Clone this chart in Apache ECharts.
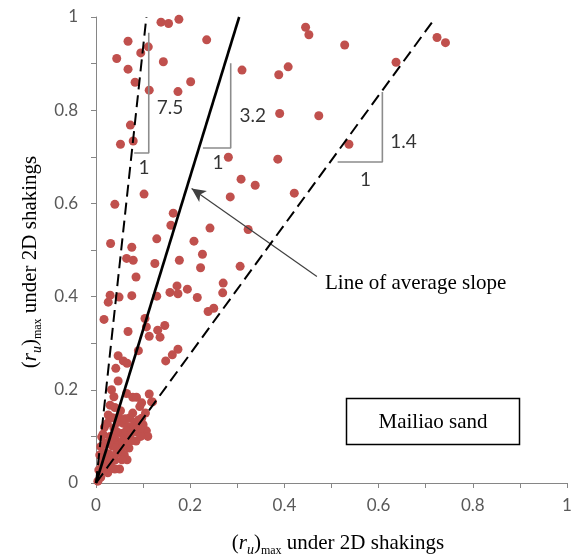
<!DOCTYPE html>
<html>
<head>
<meta charset="utf-8">
<script src="https://cdn.jsdelivr.net/npm/echarts@6/dist/echarts.min.js"></script>
<style>html,body{margin:0;padding:0;background:#fff}#c{width:582px;height:558px}</style>
</head>
<body>
<div id="c"></div>
<script>
// ---- data ----
const upperPoints = [
 [0.138,0.989],[0.154,0.986],[0.176,0.995],[0.068,0.948],[0.235,0.951],[0.044,0.911],[0.095,0.923],[0.111,0.936],
 [0.143,0.904],[0.068,0.888],[0.083,0.860],[0.113,0.843],[0.174,0.840],[0.201,0.861],[0.073,0.768],[0.052,0.727],
 [0.079,0.734],[0.102,0.620],[0.040,0.598],
 [0.445,0.978],[0.452,0.962],[0.528,0.940],[0.724,0.956],[0.742,0.945],[0.637,0.903],[0.310,0.886],[0.388,0.876],
 [0.408,0.893],[0.390,0.793],[0.473,0.788],[0.537,0.727],[0.281,0.699],[0.386,0.695],[0.308,0.652],[0.338,0.639],
 [0.285,0.614],[0.421,0.622],[0.242,0.547],[0.323,0.544],[0.226,0.491],[0.222,0.462],[0.306,0.465],[0.270,0.429],
 [0.269,0.408]
];
const middlePoints = [
 [0.164,0.579],[0.159,0.553],[0.031,0.514],[0.076,0.506],[0.129,0.524],[0.208,0.519],[0.065,0.482],[0.079,0.478],
 [0.125,0.471],[0.177,0.478],[0.085,0.442],[0.172,0.423],[0.194,0.416],[0.157,0.409],[0.174,0.406],[0.129,0.401],
 [0.215,0.398],[0.076,0.402],[0.030,0.403],[0.049,0.399],[0.026,0.388],[0.238,0.368],[0.250,0.375],
 [0.017,0.351],[0.104,0.353],[0.068,0.325],[0.107,0.335],[0.113,0.315],[0.131,0.328],[0.146,0.338],[0.136,0.313],
 [0.090,0.284],[0.047,0.273],[0.058,0.262],[0.066,0.257],[0.042,0.246],[0.174,0.287],[0.162,0.275],[0.148,0.262],
 [0.047,0.219],[0.033,0.200],[0.038,0.185],[0.065,0.192],[0.078,0.184],[0.086,0.184],[0.113,0.191],[0.097,0.172],
 [0.120,0.174],[0.030,0.167]
];
const lowerPoints = [
 [0.093,0.164],[0.118,0.174],[0.097,0.139],[0.090,0.135],[0.026,0.146],[0.107,0.112],[0.086,0.110],[0.068,0.121],
 [0.054,0.106],[0.065,0.092],[0.076,0.092],[0.012,0.099],[0.054,0.071],[0.040,0.049],
 [0.004,0.004],[0.010,0.012],[0.016,0.030],[0.022,0.045],[0.028,0.062],[0.034,0.080],[0.020,0.085],[0.030,0.100],
 [0.038,0.118],[0.046,0.130],[0.018,0.120],[0.040,0.095],[0.048,0.082],[0.058,0.128],[0.072,0.140],[0.062,0.100],
 [0.080,0.118],[0.094,0.115],[0.100,0.125],[0.070,0.075],[0.060,0.060],[0.045,0.065],[0.032,0.035],[0.025,0.022],
 [0.050,0.030],[0.066,0.050],[0.085,0.090],[0.008,0.060],[0.012,0.040],[0.052,0.155],[0.040,0.162],[0.078,0.150],
 [0.110,0.100],[0.105,0.150],
 [0.015,0.105],[0.024,0.128],[0.035,0.140],[0.044,0.110],[0.056,0.090],[0.064,0.112],[0.074,0.106],[0.082,0.130],
 [0.088,0.122],[0.036,0.058],[0.042,0.076],[0.028,0.088],[0.020,0.065],[0.016,0.052],[0.030,0.048],[0.058,0.080],
 [0.072,0.090],[0.095,0.100],[0.048,0.142],[0.062,0.138],[0.010,0.078],[0.006,0.028],[0.040,0.030],[0.055,0.050]
];
const steepLine   = [[0,0],[0.107,1.0]];
const averageLine = [[0,0],[0.304,1.0]];
const gentleLine  = [[0,0],[0.713,0.988]];
const triangle75 = [[0.081,0.708],[0.112,0.708],[0.112,0.966]];
const triangle32 = [[0.227,0.719],[0.286,0.719],[0.286,0.901]];
const triangle14 = [[0.513,0.689],[0.608,0.689],[0.608,0.839]];
const slopeLabels = ['7.5','1','3.2','1','1.4','1'];
const slopeLabelPos = [[0.157,0.806],[0.102,0.677],[0.333,0.788],[0.259,0.688],[0.653,0.732],[0.572,0.650]];
const arrowFrom = [0.469,0.443];
const arrowTo   = [0.203,0.632];
const xTicks = ['0','0.2','0.4','0.6','0.8','1'];

const chart = echarts.init(document.getElementById('c'));
const tickFmt = v => { const k = Math.round(v*10); return k % 2 === 0 ? xTicks[k/2] : ''; };
const axisCommon = {
  type:'value', min:0, max:1, interval:0.1,
  axisLine:{show:true, lineStyle:{color:'#868686', width:1}},
  axisTick:{show:true, length:5, lineStyle:{color:'#868686'}},
  splitLine:{show:false},
  axisLabel:{formatter:tickFmt, color:'#595959', fontFamily:'Lato', fontSize:17}
};
const serif = 'Liberation Serif';
const titleRich = {
  p:{fontFamily:serif, fontSize:21, color:'#000', lineHeight:28, verticalAlign:'middle'},
  i:{fontFamily:serif, fontStyle:'italic', fontSize:21, color:'#000', lineHeight:28, verticalAlign:'middle'},
  is:{fontFamily:serif, fontStyle:'italic', fontSize:14, color:'#000', lineHeight:14, verticalAlign:'bottom'},
  s:{fontFamily:serif, fontSize:12, color:'#000', lineHeight:14, verticalAlign:'bottom'}
};
const titleText = '{p|(}{i|r}{is|u}{p|)}{s|max}{p| under 2D shakings}';
const dot = {color:'#C0504D', opacity:1};
const lineSeries = (d, type, w) => ({type:'line', data:d, symbol:'none', z:5,
  lineStyle:{color:'#000', width:w, type:type}, silent:true});
const triSeries = d => ({type:'line', data:d, symbol:'none', z:4,
  lineStyle:{color:'#8c8c8c', width:1.6}, silent:true});

chart.setOption({
  animation:false,
  backgroundColor:'#fff',
  grid:{left:96, right:15, top:17, bottom:75},
  xAxis:Object.assign({}, axisCommon, {axisLabel:Object.assign({}, axisCommon.axisLabel, {margin:14})}),
  yAxis:Object.assign({}, axisCommon, {axisLabel:Object.assign({}, axisCommon.axisLabel, {margin:18})}),
  series:[
    {type:'scatter', data:upperPoints, symbolSize:9, itemStyle:dot, z:2},
    {type:'scatter', data:middlePoints, symbolSize:9, itemStyle:dot, z:2},
    {type:'scatter', data:lowerPoints, symbolSize:9, itemStyle:dot, z:2},
    lineSeries(steepLine, [12,6], 2),
    lineSeries(averageLine, 'solid', 2.6),
    lineSeries(gentleLine, [12,6], 2),
    triSeries(triangle75), triSeries(triangle32), triSeries(triangle14),
    {type:'scatter', symbolSize:0, z:6, silent:true,
     data:slopeLabelPos.map((p,i)=>({value:p, name:slopeLabels[i]})),
     label:{show:true, position:'inside', formatter:p=>p.name, color:'#000', fontFamily:'Lato', fontSize:19}},
    {type:'line', data:[], z:6,
     markLine:{silent:true, symbol:['none','arrow'], symbolSize:[10,14], label:{show:false},
       lineStyle:{color:'#404040', width:1.2, type:'solid'},
       data:[[{coord:arrowFrom},{coord:arrowTo}]]}}
  ],
  graphic:[
    {type:'text', left:325, top:273, style:{text:'Line of average slope', fontFamily:serif, fontSize:21, fill:'#000'}},
    {type:'rect', shape:{x:346.5, y:398.5, width:173, height:46}, style:{fill:'#fff', stroke:'#000', lineWidth:1.5}, z:10},
    {type:'text', x:433, y:422, z:11, style:{text:'Mailiao sand', fontFamily:serif, fontSize:21, fill:'#000', align:'center', verticalAlign:'middle'}},
    {type:'text', x:338, y:543, style:{text:titleText, rich:titleRich, align:'center', verticalAlign:'middle'}},
    {type:'text', x:30, y:262, rotation:Math.PI/2, style:{text:titleText, rich:titleRich, align:'center', verticalAlign:'middle'}}
  ]
});
</script>
</body>
</html>
